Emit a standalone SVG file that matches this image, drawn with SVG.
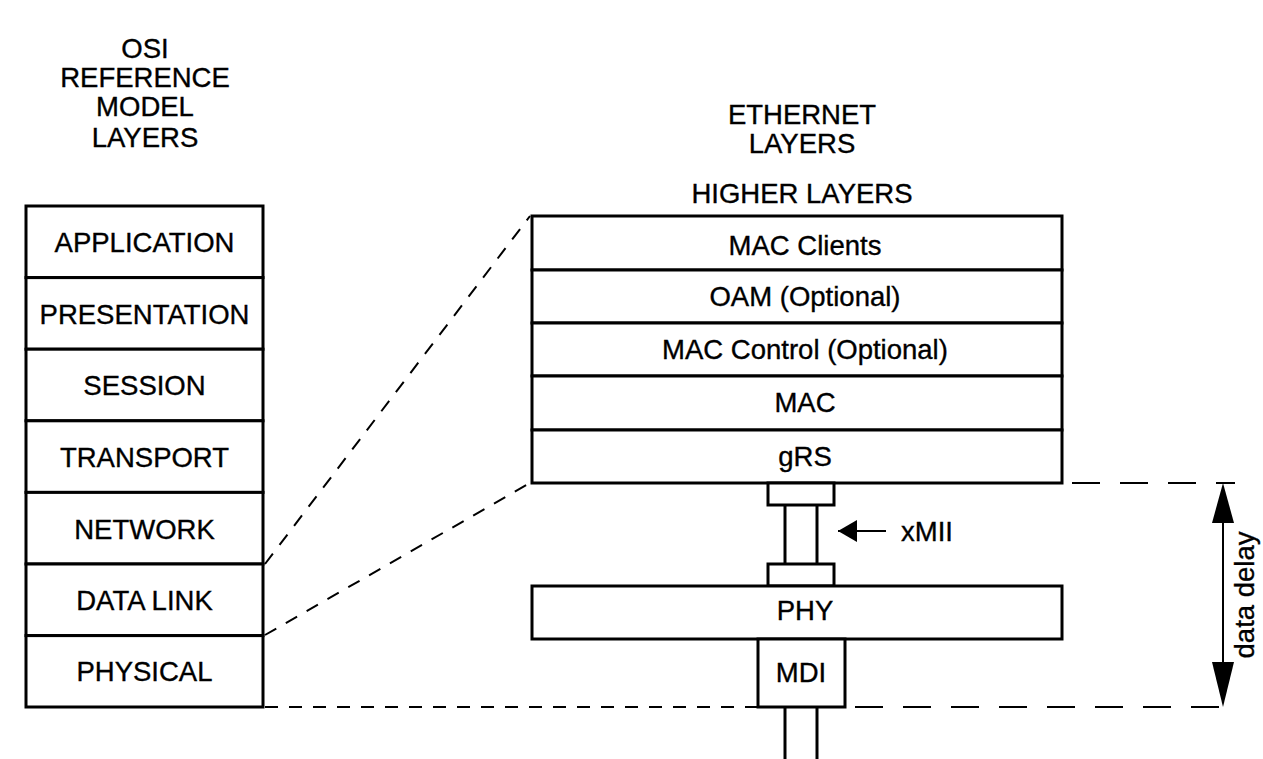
<svg xmlns="http://www.w3.org/2000/svg" width="1263" height="759" viewBox="0 0 1263 759">
  <style>
    .box { fill: #fff; stroke: #000; stroke-width: 3; }
    .ln { fill: none; stroke: #000; stroke-width: 3; }
    .dash { fill: none; stroke: #000; stroke-width: 2; stroke-dasharray: 13 11; }
    .dashl { fill: none; stroke: #000; stroke-width: 2; stroke-dasharray: 28 20; }
    .thin { fill: none; stroke: #000; stroke-width: 2; }
    text { font-family: "Liberation Sans", Arial, sans-serif; font-size: 27.5px; fill: #000; stroke: #000; stroke-width: 0.35; text-anchor: middle; }
  </style>
  <defs>
    <marker id="ah" viewBox="0 0 19 22" refX="19" refY="11" markerWidth="19" markerHeight="22" markerUnits="userSpaceOnUse" orient="auto">
      <path d="M0,0 L19,11 L0,22 z" fill="#000"/>
    </marker>
  </defs>

  <!-- Headings -->
  <g id="osi-title">
    <text x="145" y="58">OSI</text>
    <text x="145" y="87">REFERENCE</text>
    <text x="145" y="116">MODEL</text>
    <text x="145" y="147">LAYERS</text>
  </g>
  <g id="ethernet-title">
    <text x="802" y="124">ETHERNET</text>
    <text x="802" y="153">LAYERS</text>
    <text x="802" y="203">HIGHER LAYERS</text>
  </g>

  <!-- OSI stack -->
  <g id="osi-application"><rect class="box" x="26" y="206" width="237" height="71.6"/><text x="144.5" y="252">APPLICATION</text></g>
  <g id="osi-presentation"><rect class="box" x="26" y="277.6" width="237" height="71.6"/><text x="144.5" y="324">PRESENTATION</text></g>
  <g id="osi-session"><rect class="box" x="26" y="349.2" width="237" height="71.6"/><text x="144.5" y="395">SESSION</text></g>
  <g id="osi-transport"><rect class="box" x="26" y="420.8" width="237" height="71.6"/><text x="144.5" y="467">TRANSPORT</text></g>
  <g id="osi-network"><rect class="box" x="26" y="492.4" width="237" height="71.6"/><text x="144.5" y="539">NETWORK</text></g>
  <g id="osi-datalink"><rect class="box" x="26" y="564" width="237" height="71.6"/><text x="144.5" y="610">DATA LINK</text></g>
  <g id="osi-physical"><rect class="box" x="26" y="635.6" width="237" height="71.4"/><text x="144.5" y="681">PHYSICAL</text></g>

  <!-- Ethernet stack -->
  <g id="eth-mac-clients"><rect class="box" x="532" y="216" width="530" height="54"/><text x="805" y="255">MAC Clients</text></g>
  <g id="eth-oam"><rect class="box" x="532" y="270" width="530" height="53"/><text x="805" y="306">OAM (Optional)</text></g>
  <g id="eth-mac-control"><rect class="box" x="532" y="323" width="530" height="53"/><text x="805" y="359">MAC Control (Optional)</text></g>
  <g id="eth-mac"><rect class="box" x="532" y="376" width="530" height="54"/><text x="805" y="412">MAC</text></g>
  <g id="eth-grs"><rect class="box" x="532" y="430" width="530" height="53"/><text x="805" y="466">gRS</text></g>

  <!-- xMII interface -->
  <g id="xmii">
    <rect class="box" x="768" y="483" width="66" height="22"/>
    <line class="ln" x1="785" y1="505" x2="785" y2="564"/>
    <line class="ln" x1="817" y1="505" x2="817" y2="564"/>
    <rect class="box" x="768" y="564" width="66" height="22"/>
    <line class="thin" x1="886" y1="531" x2="838" y2="531" marker-end="url(#ah)"/>
    <text x="927" y="541">xMII</text>
  </g>

  <g id="eth-phy"><rect class="box" x="532" y="586" width="530" height="53"/><text x="805" y="620">PHY</text></g>
  <g id="eth-mdi">
    <rect class="box" x="758" y="639" width="87" height="68"/>
    <text x="801" y="682">MDI</text>
    <line class="ln" x1="785" y1="707" x2="785" y2="759"/>
    <line class="ln" x1="817" y1="707" x2="817" y2="759"/>
  </g>

  <!-- Connectors -->
  <g id="connectors">
    <line class="dash" x1="265" y1="564" x2="530" y2="216"/>
    <line class="dash" x1="265" y1="635" x2="530" y2="483"/>
    <line class="dash" x1="265" y1="707" x2="758" y2="707"/>
    <line class="dashl" x1="855" y1="707" x2="1235" y2="707"/>
    <line class="dashl" x1="1072" y1="483" x2="1235" y2="483"/>
    <line class="thin" x1="1223" y1="522" x2="1223" y2="665"/>
    <path d="M1223,483 L1234,523 L1212,523 z" fill="#000"/>
    <path d="M1223,707 L1234,662 L1212,662 z" fill="#000"/>
    <text x="0" y="0" transform="translate(1254,595) rotate(-90)">data delay</text>
  </g>
</svg>
